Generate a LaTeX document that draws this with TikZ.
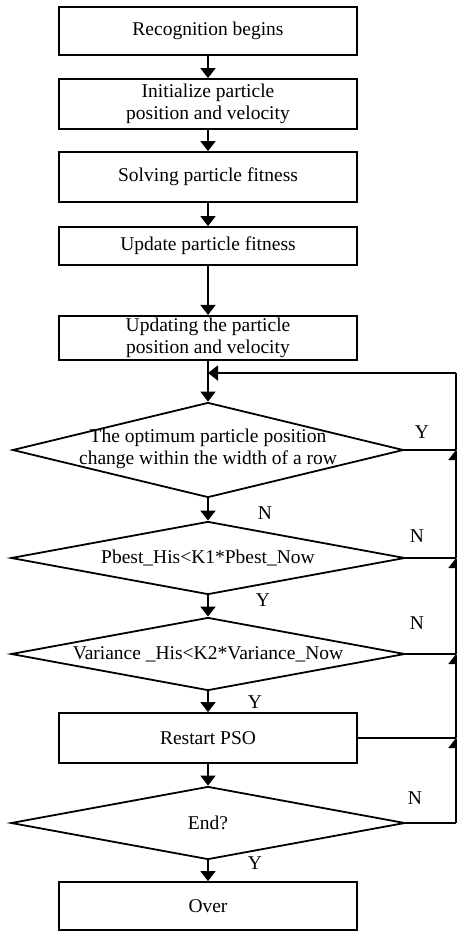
\documentclass[tikz,border=0pt]{standalone}
\usepackage{fontspec}
\setmainfont{Liberation Serif}
\usepackage{tikz}
\usetikzlibrary{shapes.geometric,arrows.meta}

\begin{document}
\begin{tikzpicture}[x=0.5pt, y=-0.5pt, line width=0.9pt,
  font=\fontsize{9.75}{11.3}\selectfont,
  stepbox/.style={rectangle, draw, minimum width=149pt, align=center, inner sep=1pt},
  decision/.style={diamond, draw, inner sep=0pt, minimum width=197pt, minimum height=36.5pt},
  flow/.style={-{Triangle[width=7.5pt,length=5pt]}},
  yn/.style={font=\fontsize{9.75}{11.3}\selectfont}]
\useasboundingbox (0,0) rectangle (456,932);

% Main steps
\node[stepbox, minimum height=24pt] (begin) at (208,31) {Recognition begins};
\node[stepbox, minimum height=25pt] (init) at (208,104) {Initialize particle\\position and velocity};
\node[stepbox, minimum height=25pt] (solve) at (208,177) {Solving particle fitness};
\node[stepbox, minimum height=19pt] (upfit) at (208,246) {Update particle fitness};
\node[stepbox, minimum height=19pt] (uppos) at (208,338) {Updating the particle\\position and velocity};

% Decisions
\node[decision, minimum width=195.5pt, minimum height=47.5pt] (opt) at (208,450) {};
\node[align=center] (optT) at (208,449) {The optimum particle position\\change within the width of a row};
\node[decision] (pbest) at (208,558) {};
\node (pbestT) at (208,558) {Pbest\_His<K1*Pbest\_Now};
\node[decision] (var) at (208,654) {};
\node (varT) at (208,654) {Variance \_His<K2*Variance\_Now};
\node[stepbox, minimum height=25pt] (restart) at (208,738) {Restart PSO};
\node[decision] (end) at (208,823) {};
\node (endT) at (208,823) {End?};
\node[stepbox, minimum height=24pt] (over) at (208,906) {Over};

% Feedback points
\coordinate (join) at (208,373);
\coordinate (rTop) at (456,373);
\coordinate (rOpt) at (456,450);
\coordinate (rPb) at (456,558);
\coordinate (rVar) at (456,654);
\coordinate (rRst) at (456,738);
\coordinate (rEnd) at (456,823);

% Main flow
\draw[flow] (begin) -- (init);
\draw[flow] (init) -- (solve);
\draw[flow] (solve) -- (upfit);
\draw[flow] (upfit) -- (uppos);
\draw (uppos) -- (join);
\draw[flow] (join) -- (opt);
\draw[flow] (opt) -- (pbest);
\draw[flow] (pbest) -- (var);
\draw[flow] (var) -- (restart);
\draw[flow] (restart) -- (end);
\draw[flow] (end) -- (over);

% Loop back on the right
\draw (end.east) -- (rEnd);
\draw[flow] (rEnd) -- (rRst);
\draw (restart.east) -- (rRst);
\draw[flow] (rRst) -- (rVar);
\draw (var.east) -- (rVar);
\draw[flow] (rVar) -- (rPb);
\draw (pbest.east) -- (rPb);
\draw[flow] (rPb) -- (rOpt);
\draw (opt.east) -- (rOpt);
\draw (rOpt) -- (rTop);
\draw[flow] (rTop) -- (join);

% Labels
\node[yn] (yOpt) at (422,432) {Y};
\node[yn] (nOpt) at (265,513) {N};
\node[yn] (nPb) at (417,536) {N};
\node[yn] (yPb) at (263,600) {Y};
\node[yn] (nVar) at (417,623) {N};
\node[yn] (yVar) at (255,702) {Y};
\node[yn] (nEnd) at (415,798) {N};
\node[yn] (yEnd) at (255,863) {Y};

\end{tikzpicture}
\end{document}
